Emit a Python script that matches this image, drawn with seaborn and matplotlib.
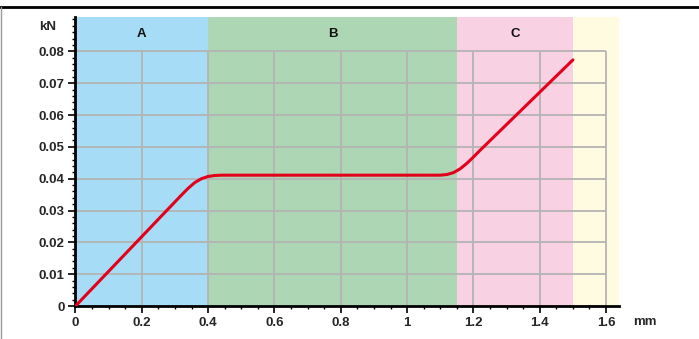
import matplotlib
matplotlib.use('Agg')
import numpy as np
import pandas as pd
import matplotlib.pyplot as plt
from matplotlib.lines import Line2D
from matplotlib.ticker import MultipleLocator
import seaborn as sns

# force-displacement curve
disp_mm = [0.0, 0.32, 0.34, 0.36, 0.38, 0.40, 0.42, 0.44, 1.10, 1.12, 1.14, 1.16, 1.18, 1.20, 1.22, 1.50]
force_kn = [0.0, 0.0349, 0.0370, 0.0388, 0.0400, 0.0407, 0.0410, 0.0411, 0.0411, 0.0413, 0.0419, 0.0431, 0.0448, 0.0468, 0.0489, 0.0773]

# zones
zone_labels = ["A", "B", "C", ""]
zone_start = [0.0, 0.4, 1.15, 1.5]
zone_end = [0.4, 1.15, 1.5, 1.64]
zone_colors = ["#a6dcf5", "#add7b4", "#f8d2e3", "#fefbe1"]

x_ticks = [0, 0.2, 0.4, 0.6, 0.8, 1, 1.2, 1.4, 1.6]
y_ticks = [0, 0.01, 0.02, 0.03, 0.04, 0.05, 0.06, 0.07, 0.08]

df = pd.DataFrame({"mm": disp_mm, "kN": force_kn})

sns.set_theme(style="white")
plt.rcParams['font.family'] = ['Liberation Sans', 'DejaVu Sans']

fig = plt.figure(figsize=(6.99, 3.39), dpi=100)
ax = fig.add_axes([0.108, 0.0973, 0.778, 0.8527])

xmax, ymax = 1.64, 0.0908
ax.set_xlim(0, xmax)
ax.set_ylim(0, ymax)

for lab, x0, x1, c in zip(zone_labels, zone_start, zone_end, zone_colors):
    ax.axvspan(x0, x1, color=c, lw=0, zorder=0)
    if lab:
        ax.text((x0 + x1) / 2, 0.0855, lab, ha='center', va='center',
                fontsize=9.5, fontweight='bold', color='#111111')

# grid only inside the data box
ax.vlines(x_ticks, 0, y_ticks[-1], color='#b4b4b4', lw=1.3, zorder=1)
ax.hlines(y_ticks, 0, x_ticks[-1], color='#b4b4b4', lw=1.3, zorder=1)

sns.lineplot(data=df, x="mm", y="kN", ax=ax, color='#e3001b', lw=2.2,
             zorder=3, legend=False)

ax.set_xticks(x_ticks)
ax.set_xticklabels(["0", "0.2", "0.4", "0.6", "0.8", "1", "1.2", "1.4", "1.6"])
ax.set_yticks(y_ticks)
ax.set_yticklabels(["0", "0.01", "0.02", "0.03", "0.04", "0.05", "0.06", "0.07", "0.08"])
ax.xaxis.set_minor_locator(MultipleLocator(0.05))
ax.yaxis.set_minor_locator(MultipleLocator(0.002))
ax.tick_params(axis='both', which='major', direction='out', length=5, width=1.2,
               color='black', labelsize=9.5, pad=3)
ax.tick_params(axis='both', which='minor', direction='out', length=2.2, width=1,
               color='black')
ax.tick_params(axis='x', which='both', bottom=True)
ax.tick_params(axis='y', which='both', left=True)
for lab in ax.get_xticklabels() + ax.get_yticklabels():
    lab.set_fontweight('bold')
ax.set_xlabel("")
ax.set_ylabel("")

for s in ['top', 'right']:
    ax.spines[s].set_visible(False)
for s in ['left', 'bottom']:
    ax.spines[s].set_color('black')
    ax.spines[s].set_linewidth(2)

fig.text(48 / 699, 1 - 27 / 339, "kN", ha='center', va='center',
         fontsize=9.5, fontweight='bold')
fig.text(645 / 699, 1 - 322 / 339, "mm", ha='center', va='center',
         fontsize=9.5, fontweight='bold')

# outer frame bits
fig.add_artist(Line2D([0, 1], [1 - 6.5 / 339, 1 - 6.5 / 339], color='black', lw=2,
                      transform=fig.transFigure))
fig.add_artist(Line2D([0.5 / 699, 0.5 / 699], [0, 1 - 7 / 339], color='#999999', lw=1,
                      transform=fig.transFigure))

fig.savefig("out.png", dpi=100)
